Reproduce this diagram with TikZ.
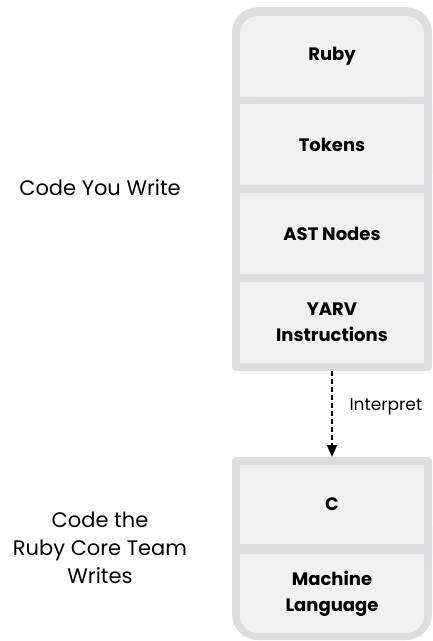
\documentclass[tikz,border=0pt]{standalone}
\usepackage{fontspec}
\setmainfont{Poppins}
\usetikzlibrary{arrows.meta}
\definecolor{outerg}{HTML}{DCDDDE}
\definecolor{innerg}{HTML}{F0F0F0}
\tikzset{
  layer/.style={fill=innerg, draw=none, minimum width=184pt, inner sep=0pt, align=center,
    font=\fontsize{18}{26}\selectfont\bfseries, text=black},
  side/.style={align=center, font=\fontsize{21}{28}\selectfont, text=black},
  flow/.style={line width=2pt, dash pattern=on 5pt off 3pt, -{Triangle[length=12pt,width=10pt]}}
}
\begin{document}
\begin{tikzpicture}[x=1pt,y=-1pt]
\useasboundingbox (0,0) rectangle (432,641);
% top container
\fill[outerg, rounded corners=26pt] (232,7) rectangle (432,200);
\fill[outerg, rounded corners=4pt] (232,100) rectangle (432,371);
% bottom container
\fill[outerg, rounded corners=4pt] (232,457) rectangle (432,560);
\fill[outerg, rounded corners=26pt] (232,500) rectangle (432,640);
% patches for sharp corners
\fill[innerg] (240,60) rectangle (424,97);
\fill[innerg] (240,554) rectangle (424,600);
\node[layer, rounded corners=18pt, minimum height=81pt] (ruby) at (332,56.5) {Ruby};
\node[layer, minimum height=81pt] (tokens) at (332,144.5) {Tokens};
\node[layer, minimum height=81pt] (ast) at (332,233.5) {AST Nodes};
\node[layer, minimum height=81pt] (yarv) at (332,322.5) {YARV\\Instructions};
\node[layer, minimum height=79pt] (c) at (332,504.5) {C};
\node[layer, rounded corners=18pt, minimum height=79pt] (ml) at (332,593.5) {Machine\\Language};
\coordinate (top) at (332,371);
\coordinate (bot) at (332,457);
\draw[flow] (top) -- (bot);
\node[side, anchor=west, font=\fontsize{17}{20}\selectfont] (interp) at (346,407) {Interpret};
\node[side] (you) at (100,188) {Code You Write};
\node[side] (core) at (100,548) {Code the\\Ruby Core Team\\Writes};
\end{tikzpicture}
\end{document}
